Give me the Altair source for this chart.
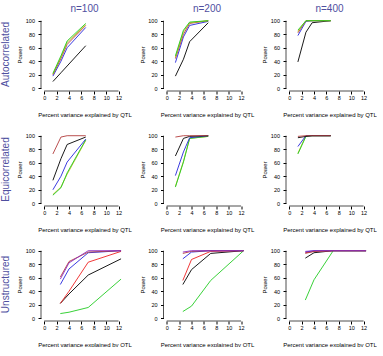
import altair as alt
import pandas as pd

# ---- data ----
sizes = ["n=100", "n=200", "n=400"]
structures = ["Autocorrelated", "Equicorrelated", "Unstructured"]
x_corr = [1.4, 2.7, 3.7, 6.7]
x_unstr = [2.6, 4.0, 7.1, 12.4]
x_ticks = [0, 2, 4, 6, 8, 10, 12]
y_ticks = [0, 20, 40, 60, 80, 100]

auto_100 = {"black": [10, 23, 33, 63], "blue": [18, 40, 60, 90], "brown": [20, 44, 65, 93],
            "olive": [21, 46, 68, 94], "green": [22, 48, 70, 96]}
auto_200 = {"black": [18, 43, 69, 97], "blue": [38, 76, 93, 99], "brown": [44, 80, 96, 100],
            "olive": [46, 84, 97, 100], "green": [48, 86, 98, 100]}
auto_400 = {"black": [39, 83, 97, 100], "blue": [78, 99, 100, 100], "brown": [82, 100, 100, 100],
            "olive": [84, 100, 100, 100], "green": [86, 100, 100, 100]}

equi_100 = {"olive": [13, 24, 43, 93], "green": [12, 23, 45, 94], "blue": [20, 40, 61, 95],
            "black": [34, 66, 87, 98], "brown": [73, 98, 100, 100]}
equi_200 = {"olive": [25, 62, 96, 99], "green": [24, 61, 96, 99], "blue": [41, 76, 97, 100],
            "black": [70, 96, 99, 100], "brown": [98, 100, 100, 100]}
equi_400 = {"olive": [74, 100, 100, 100], "green": [73, 99, 100, 100], "blue": [84, 100, 100, 100],
            "black": [97, 99, 100, 100], "brown": [99, 100, 100, 100]}

unstr_100 = {"green": [7, 9, 16, 58], "black": [22, 36, 64, 88], "red": [22, 40, 83, 99],
             "blue": [50, 73, 97, 100], "brown": [61, 84, 98, 100], "purple": [58, 82, 100, 100]}
unstr_200 = {"green": [10, 18, 56, 100], "black": [50, 72, 96, 100], "red": [56, 87, 99, 100],
             "blue": [88, 98, 100, 100], "brown": [96, 99, 100, 100], "purple": [98, 100, 100, 100]}
unstr_400 = {"green": [27, 57, 100, 100], "black": [89, 97, 100, 100], "red": [97, 99, 100, 100],
             "blue": [98, 100, 100, 100], "brown": [96, 99, 100, 100], "purple": [99, 100, 100, 100]}

series_names = ["black", "red", "brown", "blue", "green", "olive", "purple"]
series_colors = ["#000000", "#EE2222", "#B23C3C", "#2525DD", "#22CC22", "#BDBD1E", "#8B2BC0"]

panels = [
    [(x_corr, auto_100), (x_corr, auto_200), (x_corr, auto_400)],
    [(x_corr, equi_100), (x_corr, equi_200), (x_corr, equi_400)],
    [(x_unstr, unstr_100), (x_unstr, unstr_200), (x_unstr, unstr_400)],
]

# ---- styling ----
W, H = 87, 73
XDOM = [-0.52, 13.52]
YDOM = [-4, 104]
HEAD_COLOR = "#4F4F9F"
FONT = "Liberation Sans"

xsc = alt.Scale(domain=XDOM, nice=False, zero=False)
ysc = alt.Scale(domain=YDOM, nice=False, zero=False)
csc = alt.Scale(domain=series_names, range=series_colors)

xaxis = alt.Axis(values=x_ticks, title="Percent variance explained by QTL", domain=False, grid=False,
                 tickSize=3, tickColor="#000000", labelFontSize=5.5, titleFontSize=6,
                 labelPadding=1.5, titlePadding=10, labelColor="#000000", titleColor="#000000",
                 titleFontWeight="normal", labelFont=FONT, titleFont=FONT, labelFlush=False)
yaxis = alt.Axis(values=y_ticks, title="Power", domain=False, grid=False,
                 tickSize=3, tickColor="#000000", labelFontSize=5.5, titleFontSize=6,
                 labelPadding=3.5, titlePadding=2.5, labelColor="#000000", titleColor="#000000",
                 titleFontWeight="normal", labelFont=FONT, titleFont=FONT, labelAngle=0,
                 labelFlush=False)


def panel(xs, series, header=None, rowlabel=None):
    recs = []
    for name, vals in series.items():
        for x, y in zip(xs, vals):
            recs.append({"series": name, "x": x, "y": y})
    df = pd.DataFrame(recs)
    lines = alt.Chart(df).mark_line(strokeWidth=0.9).encode(
        x=alt.X("x:Q", scale=xsc, axis=xaxis),
        y=alt.Y("y:Q", scale=ysc, axis=yaxis),
        color=alt.Color("series:N", scale=csc, legend=None),
    )
    xline = alt.Chart(pd.DataFrame({"x": [x_ticks[0]], "x1": [x_ticks[-1]], "y": [YDOM[0]]})).mark_rule(
        color="#222", strokeWidth=0.8).encode(
        x=alt.X("x:Q", scale=xsc, axis=xaxis), x2="x1:Q", y=alt.Y("y:Q", scale=ysc, axis=yaxis))
    yline = alt.Chart(pd.DataFrame({"x": [XDOM[0]], "y": [y_ticks[0]], "y1": [y_ticks[-1]]})).mark_rule(
        color="#222", strokeWidth=0.8).encode(
        x=alt.X("x:Q", scale=xsc, axis=xaxis), y=alt.Y("y:Q", scale=ysc, axis=yaxis), y2="y1:Q")
    layers = [xline, yline, lines]
    if header is not None:
        layers.append(alt.Chart(pd.DataFrame({"t": [header]})).mark_text(
            fontSize=10, color=HEAD_COLOR, font=FONT, align="center", baseline="middle").encode(
            text="t:N", x=alt.value(W / 2), y=alt.value(-9)))
    if rowlabel is not None:
        layers.append(alt.Chart(pd.DataFrame({"t": [rowlabel]})).mark_text(
            fontSize=10, color=HEAD_COLOR, font=FONT, align="center", baseline="middle", angle=270).encode(
            text="t:N", x=alt.value(-35.5), y=alt.value(H / 2)))
    return alt.layer(*layers).properties(width=W, height=H)


cells = []
for r, row in enumerate(panels):
    for c, (xs, series) in enumerate(row):
        cells.append(panel(xs, series,
                           header=sizes[c] if r == 0 else None,
                           rowlabel=structures[r] if c == 0 else None))

chart = alt.concat(*cells, columns=3, spacing=alt.RowColnumber(row=42, column=35.5),
                   bounds="flush").properties(
    padding={"left": 0, "top": 4, "right": 0, "bottom": 0}
).configure_view(stroke=None)

chart.save("out.html", embed_options={"renderer": "svg", "actions": False})
